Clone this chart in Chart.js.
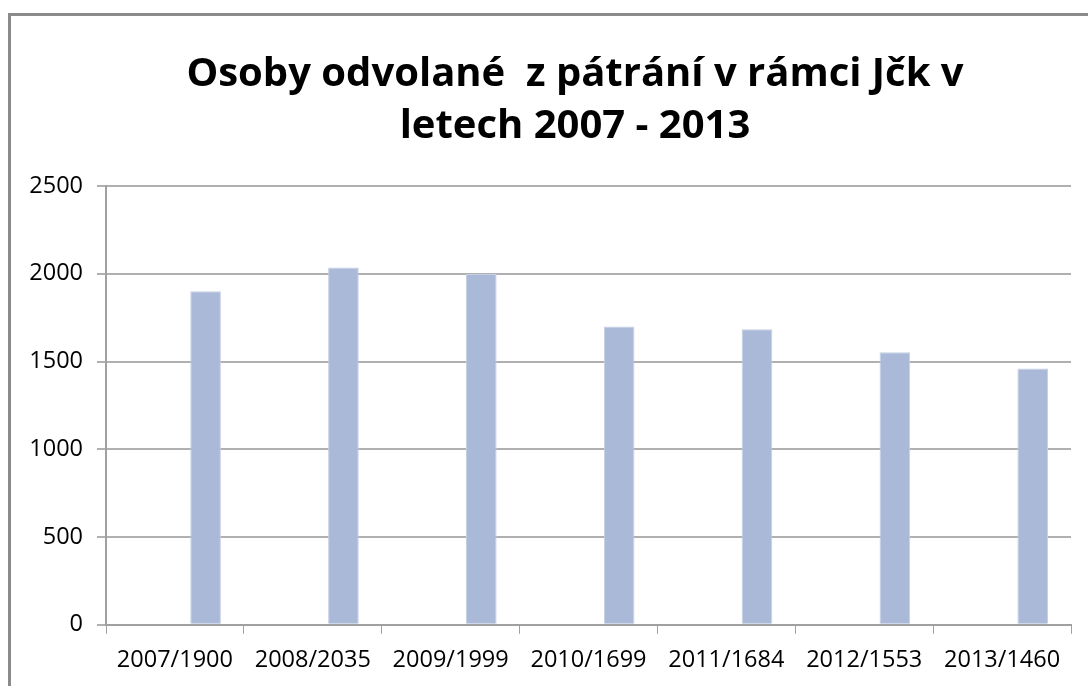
<!DOCTYPE html>
<html>
<head>
<meta charset="utf-8">
<script src="https://cdn.jsdelivr.net/npm/chart.js@4"></script>
<style>
  html, body { margin: 0; padding: 0; background: #fff; overflow: hidden; }
  body { width: 1088px; height: 686px; position: relative; }
  #frame {
    position: absolute; left: 8px; top: 13px;
    width: 1132px; height: 700px;
    border: 3px solid #8a8a8a; box-sizing: border-box; background: #fff;
  }
  #chart { display: block; }
</style>
</head>
<body>
<div id="frame"><canvas id="chart" width="1126" height="694"></canvas></div>
<script>
const labels = ['2007/1900', '2008/2035', '2009/1999', '2010/1699', '2011/1684', '2012/1553', '2013/1460']
// the original sheet has two empty series in front of the one with values
const serieVacia1 = []
const serieVacia2 = []
const values = [1900, 2035, 1999, 1699, 1684, 1553, 1460]
const titleLines = ['Osoby odvolané  z pátrání v rámci Jčk v', 'letech 2007 - 2013']
const yTicks = { min: 0, max: 2500, step: 500 }

// the title sits centred on the whole frame, not on the part right of the y axis
const centrarTitulo = {
    id: 'centrarTitulo',
    afterLayout (chart) {
        chart.titleBlock.left = 0
        chart.titleBlock.right = 1128
    }
}

function crearGrafico (labels, datasets, chartNode) {
    const config = {
        type: 'bar',
        data: { labels, datasets },
        plugins: [centrarTitulo],
        options: {
            responsive: false,
            animation: false,
            layout: { padding: { left: 15, right: 66, top: 29, bottom: 24 } },
            plugins: {
                legend: { display: false },
                tooltip: { enabled: false },
                title: {
                    display: true,
                    text: titleLines,
                    color: '#000',
                    font: { family: 'Open Sans', size: 40, weight: 'bold', lineHeight: 1.3 },
                    padding: { top: 4, bottom: 33 }
                }
            },
            scales: {
                x: {
                    grid: { drawOnChartArea: false, drawTicks: true, tickLength: 9, color: '#a0a0a0', offset: true },
                    border: { color: '#a0a0a0', width: 2 },
                    ticks: { color: '#000', font: { family: 'Open Sans', size: 23.5 }, padding: 12, maxRotation: 0 }
                },
                y: {
                    min: yTicks.min,
                    max: yTicks.max,
                    afterFit: (scale) => { scale.width = 80 },
                    grid: { color: '#b0b0b0', lineWidth: 2, tickLength: 9 },
                    border: { color: '#a0a0a0', width: 2 },
                    ticks: {
                        stepSize: yTicks.step, color: '#000',
                        font: { family: 'Open Sans', size: 23.5 }, padding: 14,
                        callback: (v) => String(v)
                    }
                }
            }
        }
    }
    return new Chart(chartNode, config)
}

function generarDataset (serie) {
    return {
        data: serie,
        backgroundColor: '#a9b9d7',
        borderColor: '#c4d0e5',
        borderWidth: 1,
        categoryPercentage: 0.667,
        barPercentage: 1
    }
}

const datasets = [serieVacia1, serieVacia2, values].map(generarDataset)
crearGrafico(labels, datasets, document.getElementById('chart'))
</script>
</body>
</html>
